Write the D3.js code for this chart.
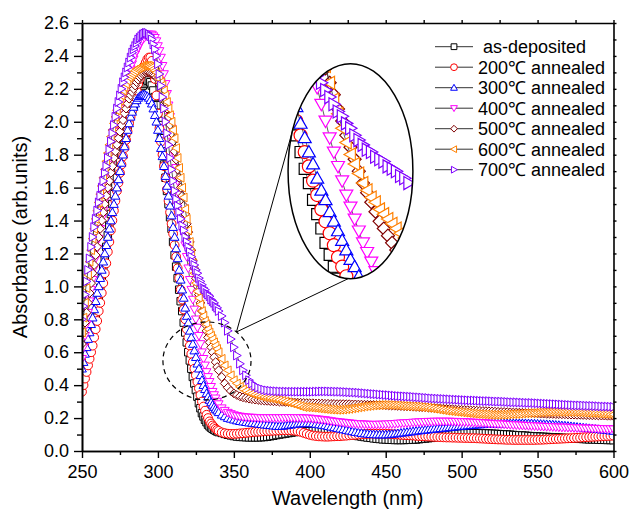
<!DOCTYPE html>
<html>
<head>
<meta charset="utf-8">
<script src="https://cdn.jsdelivr.net/npm/d3@7"></script>
<style>
body { margin: 0; background: #fff; }
text { font-family: "Liberation Sans", Arial, sans-serif; fill: #000; }
</style>
</head>
<body>
<svg width="632" height="512"></svg>
<script>

// wavelength grid (nm): 1 nm steps up to 339, then 2 nm steps
var wavelength = d3.range(250, 340, 1).concat(d3.range(340, 601, 2));

var asDeposited = [
  0.42,0.46,0.50,0.54,0.58,0.62,0.66,0.70,0.75,0.81,
  0.87,0.93,0.99,1.05,1.11,1.17,1.24,1.31,1.37,1.44,
  1.50,1.56,1.61,1.66,1.71,1.76,1.80,1.85,1.89,1.93,
  1.97,2.01,2.04,2.07,2.10,2.13,2.15,2.17,2.19,2.21,
  2.22,2.23,2.24,2.25,2.25,2.24,2.22,2.19,2.15,2.10,
  2.05,1.98,1.90,1.82,1.74,1.66,1.58,1.50,1.42,1.35,
  1.27,1.19,1.12,1.05,0.98,0.91,0.85,0.78,0.72,0.66,
  0.60,0.55,0.50,0.45,0.41,0.37,0.33,0.29,0.26,0.23,
  0.21,0.19,0.175,0.16,0.15,0.142,0.135,0.129,0.124,0.119,
  0.115,0.11,0.104,0.099,0.095,0.091,0.088,0.086,0.085,0.084,
  0.083,0.083,0.083,0.083,0.084,0.085,0.087,0.09,0.093,0.097,
  0.1,0.103,0.106,0.109,0.112,0.115,0.117,0.118,0.119,0.12,
  0.12,0.121,0.121,0.121,0.12,0.12,0.119,0.117,0.116,0.114,
  0.112,0.109,0.105,0.102,0.098,0.095,0.091,0.088,0.085,0.082,
  0.08,0.077,0.075,0.073,0.071,0.07,0.069,0.068,0.067,0.067,
  0.067,0.067,0.068,0.068,0.069,0.07,0.072,0.074,0.076,0.078,
  0.08,0.083,0.086,0.089,0.092,0.095,0.098,0.1,0.102,0.104,
  0.106,0.107,0.107,0.108,0.108,0.108,0.108,0.107,0.107,0.106,
  0.105,0.104,0.103,0.102,0.101,0.1,0.099,0.097,0.096,0.095,
  0.094,0.093,0.091,0.09,0.089,0.088,0.087,0.086,0.085,0.084,
  0.083,0.082,0.081,0.08,0.079,0.078,0.077,0.076,0.075,0.074,
  0.073,0.072,0.071,0.071,0.07,0.069,0.068,0.068,0.067,0.067,
  0.066
];

var annealed200 = [
  0.36,0.40,0.44,0.48,0.52,0.56,0.60,0.64,0.69,0.74,
  0.79,0.85,0.90,0.96,1.02,1.08,1.14,1.21,1.27,1.34,
  1.40,1.46,1.52,1.58,1.63,1.69,1.74,1.79,1.84,1.89,
  1.94,1.99,2.03,2.07,2.11,2.15,2.19,2.23,2.26,2.29,
  2.32,2.34,2.36,2.38,2.39,2.39,2.37,2.33,2.26,2.16,
  2.05,1.96,1.88,1.80,1.73,1.66,1.59,1.52,1.45,1.38,
  1.32,1.25,1.18,1.11,1.05,0.98,0.92,0.86,0.80,0.74,
  0.69,0.64,0.59,0.54,0.50,0.46,0.42,0.38,0.34,0.30,
  0.27,0.245,0.22,0.20,0.18,0.167,0.155,0.145,0.135,0.128,
  0.122,0.113,0.108,0.105,0.104,0.104,0.105,0.107,0.108,0.11,
  0.112,0.114,0.116,0.117,0.118,0.12,0.121,0.122,0.123,0.124,
  0.125,0.126,0.126,0.126,0.125,0.123,0.12,0.116,0.11,0.104,
  0.098,0.094,0.091,0.089,0.088,0.087,0.087,0.088,0.089,0.09,
  0.09,0.092,0.093,0.095,0.097,0.098,0.1,0.101,0.103,0.104,
  0.105,0.105,0.105,0.105,0.105,0.105,0.104,0.102,0.101,0.1,
  0.098,0.097,0.096,0.095,0.094,0.092,0.091,0.09,0.089,0.088,
  0.087,0.086,0.085,0.084,0.083,0.082,0.082,0.081,0.081,0.08,
  0.08,0.079,0.079,0.078,0.078,0.077,0.076,0.075,0.074,0.073,
  0.072,0.071,0.07,0.07,0.069,0.068,0.068,0.067,0.067,0.067,
  0.067,0.067,0.067,0.067,0.067,0.068,0.068,0.069,0.07,0.071,
  0.072,0.073,0.074,0.075,0.076,0.077,0.078,0.079,0.08,0.081,
  0.083,0.084,0.085,0.086,0.087,0.088,0.089,0.09,0.091,0.092,
  0.093
];

var annealed300 = [
  0.50,0.54,0.59,0.63,0.68,0.72,0.77,0.81,0.86,0.91,
  0.96,1.00,1.05,1.10,1.15,1.20,1.25,1.30,1.35,1.40,
  1.45,1.50,1.55,1.60,1.65,1.70,1.75,1.80,1.85,1.90,
  1.95,1.99,2.03,2.06,2.09,2.11,2.13,2.145,2.155,2.16,
  2.165,2.165,2.16,2.155,2.145,2.13,2.11,2.08,2.04,2.0,
  1.95,1.90,1.84,1.79,1.73,1.67,1.61,1.55,1.49,1.43,
  1.36,1.30,1.23,1.17,1.10,1.04,0.98,0.93,0.87,0.82,
  0.78,0.73,0.69,0.65,0.61,0.57,0.53,0.50,0.46,0.43,
  0.40,0.375,0.35,0.33,0.31,0.295,0.28,0.267,0.255,0.245,
  0.235,0.22,0.21,0.2,0.195,0.19,0.185,0.181,0.178,0.175,
  0.172,0.17,0.168,0.165,0.163,0.16,0.158,0.156,0.154,0.152,
  0.151,0.152,0.155,0.158,0.16,0.163,0.165,0.167,0.168,0.168,
  0.168,0.167,0.164,0.161,0.158,0.155,0.151,0.147,0.143,0.139,
  0.135,0.131,0.127,0.123,0.119,0.115,0.112,0.109,0.106,0.104,
  0.102,0.101,0.1,0.1,0.1,0.1,0.101,0.103,0.105,0.107,
  0.11,0.112,0.115,0.117,0.119,0.122,0.124,0.126,0.128,0.13,
  0.132,0.134,0.136,0.138,0.14,0.142,0.144,0.146,0.148,0.15,
  0.152,0.153,0.155,0.156,0.158,0.16,0.161,0.162,0.163,0.164,
  0.165,0.166,0.166,0.167,0.167,0.168,0.168,0.168,0.168,0.168,
  0.168,0.168,0.167,0.167,0.166,0.165,0.164,0.163,0.162,0.161,
  0.16,0.158,0.157,0.155,0.154,0.152,0.15,0.148,0.146,0.144,
  0.142,0.14,0.138,0.136,0.134,0.132,0.13,0.128,0.126,0.124,
  0.122
];

var annealed400 = [
  0.56,0.63,0.70,0.77,0.84,0.91,0.98,1.04,1.11,1.17,
  1.23,1.29,1.35,1.41,1.46,1.52,1.57,1.63,1.68,1.74,
  1.79,1.84,1.89,1.94,1.99,2.04,2.08,2.13,2.17,2.21,
  2.25,2.29,2.32,2.35,2.38,2.41,2.43,2.45,2.47,2.49,
  2.50,2.51,2.52,2.53,2.53,2.53,2.53,2.52,2.51,2.49,
  2.46,2.43,2.39,2.34,2.29,2.23,2.17,2.10,2.03,1.96,
  1.88,1.80,1.72,1.64,1.56,1.48,1.40,1.32,1.25,1.18,
  1.11,1.04,0.98,0.92,0.86,0.80,0.75,0.70,0.65,0.60,
  0.56,0.52,0.48,0.45,0.42,0.39,0.36,0.34,0.32,0.30,
  0.285,0.26,0.245,0.233,0.225,0.218,0.213,0.21,0.207,0.205,
  0.204,0.203,0.202,0.201,0.2,0.2,0.2,0.2,0.2,0.2,
  0.2,0.2,0.201,0.201,0.201,0.2,0.2,0.2,0.199,0.198,
  0.198,0.196,0.194,0.192,0.19,0.188,0.185,0.182,0.179,0.177,
  0.175,0.173,0.171,0.169,0.167,0.165,0.164,0.163,0.162,0.161,
  0.16,0.16,0.16,0.161,0.161,0.162,0.163,0.164,0.165,0.167,
  0.168,0.169,0.17,0.171,0.173,0.174,0.175,0.176,0.177,0.178,
  0.178,0.179,0.179,0.179,0.179,0.179,0.179,0.178,0.178,0.177,
  0.176,0.176,0.175,0.174,0.173,0.172,0.171,0.17,0.169,0.167,
  0.166,0.165,0.164,0.163,0.162,0.16,0.159,0.158,0.157,0.156,
  0.155,0.154,0.153,0.152,0.151,0.15,0.149,0.148,0.147,0.147,
  0.146,0.145,0.144,0.143,0.143,0.142,0.141,0.14,0.139,0.139,
  0.138,0.137,0.137,0.136,0.136,0.135,0.134,0.134,0.133,0.133,
  0.132
];

var annealed500 = [
  0.65,0.72,0.78,0.84,0.90,0.96,1.02,1.08,1.13,1.19,
  1.24,1.30,1.35,1.40,1.45,1.50,1.55,1.60,1.64,1.69,
  1.73,1.78,1.82,1.86,1.90,1.94,1.98,2.01,2.05,2.08,
  2.11,2.14,2.16,2.18,2.20,2.22,2.24,2.255,2.27,2.28,
  2.29,2.295,2.30,2.30,2.30,2.295,2.29,2.285,2.28,2.27,
  2.26,2.24,2.22,2.19,2.16,2.12,2.08,2.03,1.98,1.93,
  1.88,1.82,1.77,1.71,1.66,1.60,1.55,1.49,1.44,1.38,
  1.33,1.27,1.22,1.16,1.11,1.05,1.00,0.95,0.90,0.85,
  0.81,0.77,0.73,0.69,0.66,0.63,0.60,0.57,0.54,0.51,
  0.49,0.45,0.41,0.385,0.365,0.35,0.34,0.332,0.326,0.322,
  0.318,0.315,0.312,0.31,0.308,0.306,0.305,0.303,0.302,0.301,
  0.3,0.299,0.298,0.297,0.296,0.295,0.294,0.293,0.292,0.291,
  0.29,0.29,0.289,0.288,0.288,0.287,0.287,0.286,0.286,0.285,
  0.285,0.285,0.284,0.284,0.283,0.283,0.282,0.282,0.281,0.281,
  0.28,0.28,0.279,0.279,0.278,0.277,0.276,0.276,0.275,0.274,
  0.273,0.272,0.271,0.27,0.269,0.268,0.267,0.266,0.265,0.263,
  0.262,0.261,0.26,0.259,0.257,0.256,0.255,0.254,0.252,0.251,
  0.25,0.249,0.248,0.247,0.246,0.245,0.244,0.243,0.242,0.241,
  0.24,0.239,0.238,0.237,0.237,0.236,0.235,0.234,0.234,0.233,
  0.232,0.231,0.23,0.23,0.229,0.228,0.227,0.227,0.226,0.226,
  0.225,0.224,0.224,0.223,0.223,0.222,0.221,0.221,0.22,0.22,
  0.219,0.218,0.218,0.217,0.217,0.216,0.215,0.215,0.214,0.214,
  0.213
];

var annealed600 = [
  0.72,0.81,0.90,0.99,1.07,1.15,1.22,1.29,1.35,1.41,
  1.46,1.51,1.56,1.61,1.66,1.71,1.76,1.81,1.86,1.91,
  1.95,1.99,2.03,2.07,2.10,2.13,2.16,2.19,2.21,2.23,
  2.25,2.27,2.28,2.29,2.30,2.31,2.32,2.325,2.33,2.335,
  2.34,2.34,2.34,2.34,2.34,2.335,2.33,2.32,2.31,2.30,
  2.28,2.26,2.24,2.22,2.19,2.16,2.12,2.08,2.04,2.00,
  1.95,1.90,1.84,1.78,1.72,1.66,1.60,1.54,1.47,1.41,
  1.34,1.27,1.20,1.14,1.08,1.02,0.97,0.93,0.89,0.85,
  0.82,0.79,0.77,0.74,0.72,0.70,0.68,0.66,0.64,0.62,
  0.60,0.56,0.52,0.49,0.46,0.43,0.41,0.39,0.375,0.365,
  0.355,0.348,0.342,0.337,0.332,0.328,0.325,0.322,0.318,0.314,
  0.31,0.305,0.3,0.295,0.29,0.285,0.278,0.272,0.267,0.266,
  0.265,0.263,0.261,0.259,0.257,0.255,0.253,0.252,0.251,0.25,
  0.251,0.252,0.254,0.256,0.259,0.262,0.265,0.268,0.271,0.273,
  0.275,0.277,0.278,0.279,0.28,0.28,0.28,0.279,0.278,0.277,
  0.275,0.274,0.273,0.272,0.271,0.27,0.269,0.267,0.265,0.263,
  0.26,0.257,0.254,0.251,0.248,0.245,0.243,0.241,0.239,0.237,
  0.235,0.233,0.231,0.229,0.227,0.225,0.224,0.223,0.222,0.221,
  0.22,0.22,0.22,0.221,0.221,0.222,0.223,0.224,0.225,0.226,
  0.228,0.229,0.23,0.231,0.232,0.234,0.235,0.236,0.237,0.237,
  0.238,0.238,0.238,0.238,0.238,0.238,0.237,0.237,0.236,0.235,
  0.234,0.233,0.232,0.231,0.23,0.228,0.227,0.226,0.225,0.223,
  0.222
];

var annealed700 = [
  0.80,0.88,0.95,1.03,1.10,1.17,1.24,1.30,1.36,1.41,
  1.46,1.51,1.55,1.60,1.64,1.69,1.73,1.78,1.83,1.88,
  1.93,1.98,2.03,2.08,2.12,2.16,2.20,2.24,2.27,2.30,
  2.33,2.36,2.39,2.42,2.44,2.46,2.48,2.50,2.51,2.52,
  2.53,2.535,2.54,2.54,2.53,2.52,2.50,2.47,2.44,2.40,
  2.35,2.29,2.22,2.15,2.08,2.00,1.93,1.86,1.78,1.71,
  1.64,1.58,1.53,1.49,1.45,1.41,1.37,1.34,1.30,1.27,
  1.24,1.21,1.18,1.15,1.13,1.10,1.08,1.05,1.03,1.01,
  0.99,0.98,0.96,0.95,0.94,0.92,0.91,0.90,0.88,0.87,
  0.85,0.82,0.78,0.73,0.68,0.63,0.58,0.53,0.49,0.46,
  0.43,0.41,0.395,0.385,0.378,0.372,0.368,0.366,0.364,0.363,
  0.362,0.361,0.361,0.36,0.36,0.36,0.36,0.36,0.36,0.36,
  0.36,0.36,0.361,0.361,0.362,0.362,0.362,0.361,0.361,0.36,
  0.36,0.359,0.358,0.357,0.356,0.355,0.354,0.352,0.351,0.349,
  0.348,0.346,0.345,0.343,0.342,0.34,0.339,0.337,0.336,0.334,
  0.333,0.332,0.331,0.33,0.329,0.327,0.326,0.325,0.323,0.322,
  0.32,0.319,0.318,0.317,0.316,0.315,0.314,0.313,0.312,0.311,
  0.31,0.309,0.308,0.307,0.307,0.306,0.305,0.304,0.303,0.303,
  0.302,0.301,0.3,0.3,0.299,0.298,0.297,0.296,0.296,0.295,
  0.294,0.293,0.292,0.292,0.291,0.29,0.289,0.288,0.287,0.286,
  0.285,0.284,0.283,0.282,0.281,0.28,0.279,0.278,0.277,0.277,
  0.276,0.275,0.274,0.274,0.273,0.272,0.271,0.27,0.27,0.269,
  0.268
];

var seriesNames = ["as-deposited", "200\u2103 annealed", "300\u2103 annealed", "400\u2103 annealed",
                   "500\u2103 annealed", "600\u2103 annealed", "700\u2103 annealed"];
var seriesValues = [asDeposited, annealed200, annealed300, annealed400, annealed500, annealed600, annealed700];
var seriesColors = ["#000000", "#ff0000", "#0000ff", "#ff00ff", "#800000", "#ff8000", "#8000ff"];
var seriesShapes = ["square", "circle", "up", "down", "diamond", "left", "right"];

var xMajor = d3.range(250, 601, 50);
var xMinor = d3.range(275, 600, 50);
var yMajor = d3.range(0, 27, 2).map(function(d) { return d / 10; });
var yMinor = d3.range(1, 26, 2).map(function(d) { return d / 10; });

var width = 632, height = 512,
    margin = {top: 23, right: 18.5, bottom: 61, left: 82};

var svg = d3.select("svg");

var x = d3.scaleLinear().domain([250, 600]).range([margin.left, width - margin.right]);
var y = d3.scaleLinear().domain([0, 2.6]).range([height - margin.bottom, margin.top]);

var series = seriesValues.map(function(vals, i) {
  return {
    name: seriesNames[i], color: seriesColors[i], shape: seriesShapes[i],
    points: vals.map(function(v, j) { return [wavelength[j], v]; })
  };
});

function symbolPath(kind, r) {
  var h = r * 0.75, s = r * 0.85;
  switch (kind) {
    case "square": return "M" + -s + "," + -s + "H" + s + "V" + s + "H" + -s + "Z";
    case "circle": return "M" + r + ",0A" + r + "," + r + " 0 1,1 " + -r + ",0A" + r + "," + r + " 0 1,1 " + r + ",0Z";
    case "up": return "M0," + -r + "L" + r + "," + h + "L" + -r + "," + h + "Z";
    case "down": return "M0," + r + "L" + r + "," + -h + "L" + -r + "," + -h + "Z";
    case "left": return "M" + -r + ",0L" + h + "," + -r + "L" + h + "," + r + "Z";
    case "right": return "M" + r + ",0L" + -h + "," + -r + "L" + -h + "," + r + "Z";
    case "diamond": return "M0," + -r + "L" + r + ",0L0," + r + "L" + -r + ",0Z";
  }
}

var defs = svg.append("defs");
defs.append("clipPath").attr("id", "plot-clip")
  .append("rect")
    .attr("x", margin.left).attr("y", margin.top)
    .attr("width", x.range()[1] - margin.left)
    .attr("height", y.range()[0] - margin.top);

function drawSeries(g, sx, sy, r, sw) {
  var line = d3.line().x(function(d) { return sx(d[0]); }).y(function(d) { return sy(d[1]); });
  series.forEach(function(s) {
    var sg = g.append("g");
    sg.append("path")
        .attr("d", line(s.points))
        .attr("fill", "none")
        .attr("stroke", "#333")
        .attr("stroke-width", 0.8);
    sg.selectAll("path.pt")
      .data(s.points)
      .enter().append("path")
        .attr("class", "pt")
        .attr("transform", function(d) { return "translate(" + sx(d[0]) + "," + sy(d[1]) + ")"; })
        .attr("d", symbolPath(s.shape, r))
        .attr("fill", "#fff")
        .attr("stroke", s.color)
        .attr("stroke-width", sw);
  });
}

drawSeries(svg.append("g").attr("clip-path", "url(#plot-clip)"), x, y, 4.4, 1);

// axes
function styleAxis(g) {
  g.select(".domain").attr("stroke-width", 1.6);
  g.selectAll(".tick line").attr("stroke-width", 1.4);
  g.selectAll("text").attr("font-size", 18).attr("font-family", "Liberation Sans, Arial, sans-serif").attr("fill", "#000");
}

var yb = y.range()[0], xr = x.range()[1];

svg.append("g").attr("transform", "translate(0," + yb + ")")
    .call(d3.axisBottom(x).tickValues(xMinor).tickSize(4).tickSizeOuter(0).tickFormat(""))
    .call(styleAxis);
svg.append("g").attr("transform", "translate(0," + yb + ")")
    .call(d3.axisBottom(x).tickValues(xMajor).tickSize(7).tickSizeOuter(0).tickPadding(7).tickFormat(d3.format("d")))
    .call(styleAxis);
svg.append("g").attr("transform", "translate(" + margin.left + ",0)")
    .call(d3.axisLeft(y).tickValues(yMinor).tickSize(5).tickSizeOuter(0).tickFormat(""))
    .call(styleAxis);
svg.append("g").attr("transform", "translate(" + margin.left + ",0)")
    .call(d3.axisLeft(y).tickValues(yMajor).tickSize(8).tickSizeOuter(0).tickPadding(5).tickFormat(d3.format(".1f")))
    .call(styleAxis);
svg.append("g").attr("transform", "translate(0," + margin.top + ")")
    .call(d3.axisTop(x).tickValues(xMajor.concat(xMinor)).tickSize(3).tickSizeOuter(0).tickFormat(""))
    .call(styleAxis);
svg.append("g").attr("transform", "translate(" + xr + ",0)")
    .call(d3.axisRight(y).tickValues(yMajor.concat(yMinor)).tickSize(3).tickSizeOuter(0).tickFormat(""))
    .call(styleAxis);

svg.append("text")
    .attr("x", (margin.left + xr) / 2).attr("y", 505)
    .attr("text-anchor", "middle").attr("font-size", 20)
    .text("Wavelength (nm)");
svg.append("text")
    .attr("transform", "translate(20," + (margin.top + yb) / 2 + ") rotate(-90)")
    .attr("text-anchor", "middle").attr("dy", "0.35em").attr("font-size", 20)
    .text("Absorbance (arb.units)");

// zoomed region marker (dashed) and magnified inset (solid ellipse)
var zoomArea = {cx: 332.3, cy: 0.547, rx: 29, ry: 0.237};
var insetArea = {cx: 426.8, cy: 1.70, rx: 41.1, ry: 0.653};
var insetDomain = {x: [311, 341], y: [0.45, 1.35]};

function ellipsePx(a) {
  return {cx: x(a.cx), cy: y(a.cy), rx: x(a.cx + a.rx) - x(a.cx), ry: y(a.cy) - y(a.cy + a.ry)};
}
var ze = ellipsePx(zoomArea), ie = ellipsePx(insetArea);

svg.append("ellipse")
    .attr("cx", ze.cx).attr("cy", ze.cy).attr("rx", ze.rx).attr("ry", ze.ry)
    .attr("fill", "none").attr("stroke", "#000").attr("stroke-width", 1.2)
    .attr("stroke-dasharray", "5,4");

function onEllipse(e, deg) {
  var a = deg * Math.PI / 180;
  return [e.cx + e.rx * Math.cos(a), e.cy + e.ry * Math.sin(a)];
}
var p0 = onEllipse(ze, -48);
[onEllipse(ie, 205), onEllipse(ie, 92)].forEach(function(p1) {
  svg.append("line")
      .attr("x1", p0[0]).attr("y1", p0[1]).attr("x2", p1[0]).attr("y2", p1[1])
      .attr("stroke", "#000").attr("stroke-width", 1);
});

defs.append("clipPath").attr("id", "inset-clip")
  .append("ellipse")
    .attr("cx", ie.cx).attr("cy", ie.cy).attr("rx", ie.rx).attr("ry", ie.ry);

var xi = d3.scaleLinear().domain(insetDomain.x).range([ie.cx - ie.rx, ie.cx + ie.rx]);
var yi = d3.scaleLinear().domain(insetDomain.y).range([ie.cy + ie.ry, ie.cy - ie.ry]);

svg.append("ellipse")
    .attr("cx", ie.cx).attr("cy", ie.cy).attr("rx", ie.rx).attr("ry", ie.ry)
    .attr("fill", "#fff");
drawSeries(svg.append("g").attr("clip-path", "url(#inset-clip)"), xi, yi, 6.5, 1.2);
svg.append("ellipse")
    .attr("cx", ie.cx).attr("cy", ie.cy).attr("rx", ie.rx).attr("ry", ie.ry)
    .attr("fill", "none").attr("stroke", "#000").attr("stroke-width", 1.5);

// legend
var legend = svg.append("g").attr("transform", "translate(435,46.7)");
var row = legend.selectAll("g").data(series).enter().append("g")
    .attr("transform", function(d, i) { return "translate(0," + i * 20.5 + ")"; });
row.append("line").attr("x1", 0).attr("x2", 38)
    .attr("stroke", "#333").attr("stroke-width", 1);
row.append("path")
    .attr("transform", "translate(19,0)")
    .attr("d", function(d) { return symbolPath(d.shape, 3.4); })
    .attr("fill", "#fff").attr("stroke", function(d) { return d.color; }).attr("stroke-width", 1);
row.append("text")
    .attr("x", 43).attr("dy", "0.35em").attr("font-size", 18)
    .style("white-space", "pre")
    .text(function(d, i) { return (i === 0 ? " " : "") + d.name; });

</script>
</body>
</html>
